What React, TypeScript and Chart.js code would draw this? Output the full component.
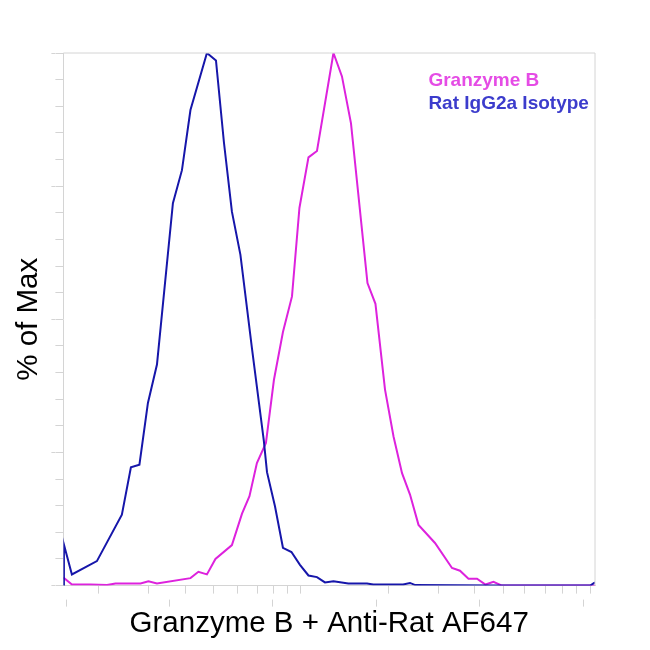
import { useEffect, useRef } from "react";
import { Chart, registerables } from "chart.js";
import type { Plugin } from "chart.js";

Chart.register(...registerables);

// fluorescence channel (0-1000) and % of max for each histogram
const granzymeX = [0, 16, 51, 82, 98, 145, 160, 176, 239, 254, 270, 286, 317, 336, 350, 364, 381, 396, 413, 430, 444, 461, 477, 508, 524, 541, 572, 587, 605, 621, 637, 652, 668, 699, 731, 746, 762, 778, 794, 809, 825, 1000];
const granzymeY = [1.5, 0.2, 0.2, 0.1, 0.4, 0.4, 0.8, 0.4, 1.4, 2.6, 2.1, 5.0, 7.6, 13.5, 16.8, 23.0, 26.8, 38.6, 47.6, 54.3, 70.9, 80.4, 81.6, 100, 95.6, 86.8, 56.8, 52.9, 36.8, 28.0, 21.1, 17.1, 11.4, 8.0, 3.3, 2.8, 1.3, 1.3, 0.2, 0.7, 0, 0];

const isotypeX = [0, 1, 16, 63, 110, 127, 143, 159, 176, 206, 223, 239, 270, 287, 302, 317, 333, 355, 377, 383, 398, 413, 429, 445, 461, 477, 492, 508, 536, 571, 583, 639, 652, 662, 821, 991, 1000];
const isotypeY = [0, 7.7, 2.1, 4.6, 13.3, 22.2, 22.7, 34.3, 41.5, 71.8, 78.0, 89.3, 100, 98.6, 83.2, 70.2, 62.1, 44.3, 27.2, 21.3, 14.9, 7.1, 6.3, 3.9, 1.9, 1.6, 0.6, 0.8, 0.4, 0.4, 0.2, 0.2, 0.5, 0.1, 0, 0, 0.6];

const seriesLabels = ["Granzyme B", "Rat IgG2a Isotype"];

// x axis tick marks (upper row on the axis, lower row of decade marks)
const minorTicks = [66, 160, 229, 282, 327, 365, 395, 421, 446, 611, 705, 774, 827, 868, 906, 938, 966, 991];
const decadeTicks = [4, 199, 393, 588, 782, 977];

const GRID = "#d4d4d4";
const FONT = "'Liberation Sans', Arial, sans-serif";
const LINE_COLORS = ["#dd22dd", "#1616aa"];
const TEXT_COLORS = ["#e54ce5", "#3c3ccc"];

const toPoints = (xs: number[], ys: number[]) => xs.map((x, i) => ({ x, y: ys[i] }));

const framePlugin: Plugin<"line"> = {
  id: "frame",
  afterDraw(chart) {
    const { ctx, chartArea: a, scales } = chart;
    ctx.save();
    ctx.strokeStyle = GRID;
    ctx.lineWidth = 1;
    ctx.beginPath();
    ctx.moveTo(a.left, a.top);
    ctx.lineTo(a.right, a.top);
    ctx.lineTo(a.right, a.bottom);
    decadeTicks.forEach((v) => {
      const px = Math.round(scales.x.getPixelForValue(v)) + 0.5;
      ctx.moveTo(px, a.bottom + 14);
      ctx.lineTo(px, a.bottom + 21);
    });
    ctx.stroke();

    // legend in the top right of the plot
    ctx.font = `bold 19px ${FONT}`;
    ctx.textAlign = "left";
    ctx.textBaseline = "alphabetic";
    seriesLabels.forEach((label, i) => {
      ctx.fillStyle = TEXT_COLORS[i];
      ctx.fillText(label, a.left + 365, a.top + 33 + i * 22.5);
    });
    ctx.restore();
  },
};

const App = () => {
  const canvasRef = useRef<HTMLCanvasElement>(null);

  useEffect(() => {
    if (!canvasRef.current) return;

    const chart = new Chart(canvasRef.current, {
      type: "line",
      data: {
        datasets: [
          {
            label: seriesLabels[0],
            data: toPoints(granzymeX, granzymeY),
            borderColor: LINE_COLORS[0],
            borderWidth: 2,
            pointRadius: 0,
            tension: 0,
            clip: 0,
            order: 1,
          },
          {
            label: seriesLabels[1],
            data: toPoints(isotypeX, isotypeY),
            borderColor: LINE_COLORS[1],
            borderWidth: 2,
            pointRadius: 0,
            tension: 0,
            clip: 0,
            order: 0,
          },
        ],
      },
      options: {
        animation: false,
        responsive: true,
        maintainAspectRatio: false,
        layout: { padding: { top: 53, right: 55, left: 0, bottom: 0 } },
        plugins: {
          legend: { display: false },
          tooltip: { enabled: false },
        },
        scales: {
          x: {
            type: "linear",
            min: 0,
            max: 1000,
            afterBuildTicks: (scale) => {
              scale.ticks = minorTicks.map((value) => ({ value }));
            },
            ticks: { display: false },
            grid: { drawOnChartArea: false, tickLength: 8, color: GRID },
            border: { color: GRID },
            title: {
              display: true,
              text: "Granzyme B + Anti-Rat AF647",
              color: "#000",
              font: { family: FONT, size: 29.5 },
              padding: { top: 13, bottom: 8 },
            },
          },
          y: {
            min: 0,
            max: 100,
            ticks: { display: false, stepSize: 5 },
            grid: { drawOnChartArea: false, tickLength: 8, color: GRID },
            border: { color: GRID },
          },
          y2: {
            position: "left",
            weight: 1,
            min: 0,
            max: 100,
            ticks: { display: false, stepSize: 25 },
            grid: { drawOnChartArea: false, tickLength: 4, color: GRID },
            border: { display: false },
            title: {
              display: true,
              text: "% of Max",
              color: "#000",
              font: { family: FONT, size: 29.5 },
              padding: { top: 11, bottom: 5 },
            },
          },
        },
      },
      plugins: [framePlugin],
    });

    return () => {
      chart.destroy();
    };
  }, []);

  return (
    <div style={{ position: "fixed", left: 0, top: 0, width: 650, height: 650, background: "#fff" }}>
      <canvas ref={canvasRef}></canvas>
    </div>
  );
};

export default App;
